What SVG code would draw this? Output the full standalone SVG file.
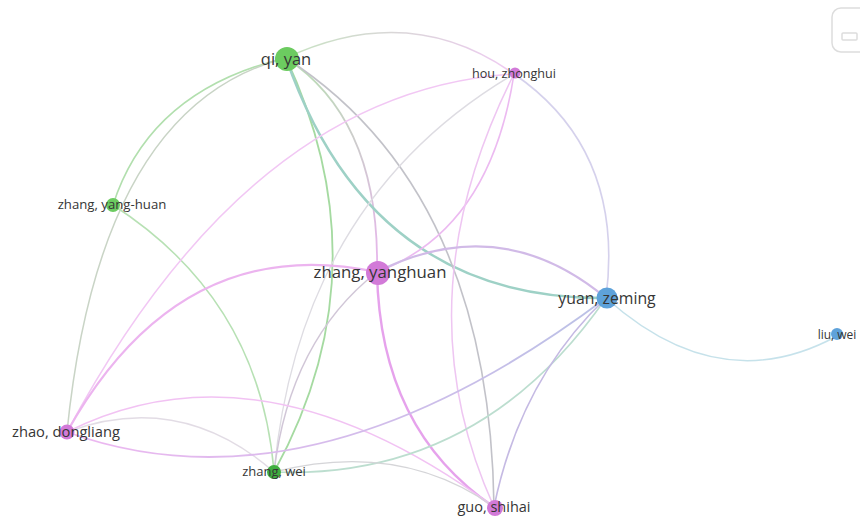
<svg xmlns="http://www.w3.org/2000/svg" width="860" height="517" viewBox="0 0 860 517">
  <style>
    .edge { fill: none; stroke-linecap: round; }
    #connectors { opacity: 0.8; }
    .lbl { font-family: "Open Sans", "Noto Sans", "Liberation Sans", sans-serif; fill: #363636; text-anchor: middle; }
    .green { fill: #6ccb60; }
    .dgreen { fill: #3fae3f; }
    .pink { fill: #d27ad8; }
    .blue { fill: #5ea2da; }
  </style>
  <defs>
    <linearGradient id="gQH" gradientUnits="userSpaceOnUse" x1="286" y1="58" x2="514" y2="74">
      <stop offset="0" stop-color="#b9dcb2"/>
      <stop offset="1" stop-color="#ecbdf0"/>
    </linearGradient>
    <linearGradient id="gQZY" gradientUnits="userSpaceOnUse" x1="286" y1="58" x2="377" y2="272">
      <stop offset="0" stop-color="#a6d89f"/>
      <stop offset="1" stop-color="#e3a2ea"/>
    </linearGradient>
    <linearGradient id="gZDYZ" gradientUnits="userSpaceOnUse" x1="67" y1="432" x2="606" y2="298">
      <stop offset="0" stop-color="#eaa6ee"/>
      <stop offset="1" stop-color="#a9b2e0"/>
    </linearGradient>
  </defs>

  <rect width="860" height="517" fill="#ffffff"/>

  <!-- panel widget, top right -->
  <g id="panel" fill="none" stroke="#dddddd" stroke-width="1.5">
    <rect x="832" y="8" width="50" height="44" rx="9"/>
    <rect x="842" y="33" width="15" height="7" rx="1"/>
  </g>

  <g id="connectors">
    <path class="edge" d="M286,58 Q410,0 514,74" stroke="url(#gQH)" stroke-width="1.6"/>
    <path class="edge" d="M514,74 Q625,150 606,298" stroke="#cbc6e8" stroke-width="1.6"/>
    <path class="edge" d="M286,58 Q150,90 113,205" stroke="#9fd89a" stroke-width="1.6"/>
    <path class="edge" d="M286,58 Q100,105 67,432" stroke="#bccab8" stroke-width="1.5"/>
    <path class="edge" d="M113,205 Q260,300 274,472" stroke="#a6daa2" stroke-width="1.5"/>
    <path class="edge" d="M286,58 Q385,270 274,472" stroke="#8fd28a" stroke-width="1.8"/>
    <path class="edge" d="M286,58 Q380,120 377,272" stroke="url(#gQZY)" stroke-width="1.8"/>
    <path class="edge" d="M286,58 Q370,300 606,298" stroke="#86c6b8" stroke-width="2.4"/>
    <path class="edge" d="M286,58 Q490,190 494,507" stroke="#b4b4bc" stroke-width="1.6"/>
    <path class="edge" d="M514,74 Q250,90 67,432" stroke="#efbaf2" stroke-width="1.5"/>
    <path class="edge" d="M514,74 Q300,200 274,472" stroke="#d6d4dc" stroke-width="1.3"/>
    <path class="edge" d="M514,74 Q490,230 377,272" stroke="#e8aaee" stroke-width="1.6"/>
    <path class="edge" d="M514,74 Q400,300 494,507" stroke="#ebb8ef" stroke-width="1.5"/>
    <path class="edge" d="M377,272 Q500,210 606,298" stroke="#c6aae2" stroke-width="2.2"/>
    <path class="edge" d="M377,272 Q380,430 494,507" stroke="#e08ce8" stroke-width="2.4"/>
    <path class="edge" d="M67,432 Q180,230 377,272" stroke="#e8a2ec" stroke-width="2.2"/>
    <path class="edge" d="M377,272 Q290,340 274,472" stroke="#c6b9ce" stroke-width="1.5"/>
    <path class="edge" d="M67,432 Q260,335 494,507" stroke="#efb4f1" stroke-width="1.6"/>
    <path class="edge" d="M67,432 Q180,390 274,472" stroke="#dcd4df" stroke-width="1.3"/>
    <path class="edge" d="M67,432 Q310,520 606,298" stroke="url(#gZDYZ)" stroke-width="1.8"/>
    <path class="edge" d="M274,472 Q480,480 606,298" stroke="#acd6c4" stroke-width="1.6"/>
    <path class="edge" d="M274,472 Q400,440 494,507" stroke="#cbcbcf" stroke-width="1.4"/>
    <path class="edge" d="M606,298 Q520,380 494,507" stroke="#b7a9dd" stroke-width="1.6"/>
    <path class="edge" d="M606,298 Q720,400 837,336" stroke="#b8dbe6" stroke-width="1.5"/>
  </g>

  <g id="node-qi-yan">
    <circle class="green" cx="287" cy="59" r="12"/>
    <text class="lbl" x="286" y="65" font-size="16.5">qi, yan</text>
  </g>
  <g id="node-hou-zhonghui">
    <circle class="pink" cx="515" cy="73" r="5.5"/>
    <text class="lbl" x="514" y="78" font-size="12.6">hou, zhonghui</text>
  </g>
  <g id="node-zhang-yang-huan">
    <circle class="green" cx="113" cy="205" r="7"/>
    <text class="lbl" x="112" y="209" font-size="13.2">zhang, yang-huan</text>
  </g>
  <g id="node-zhang-yanghuan">
    <circle class="pink" cx="378" cy="273" r="12"/>
    <text class="lbl" x="380" y="278" font-size="16.8">zhang, yanghuan</text>
  </g>
  <g id="node-yuan-zeming">
    <circle class="blue" cx="607" cy="298" r="10.5"/>
    <text class="lbl" x="607" y="304" font-size="15.8">yuan, zeming</text>
  </g>
  <g id="node-liu-wei">
    <circle class="blue" cx="837" cy="334" r="6"/>
    <text class="lbl" x="837" y="339" font-size="12">liu, wei</text>
  </g>
  <g id="node-zhao-dongliang">
    <circle class="pink" cx="67" cy="432" r="7.5"/>
    <text class="lbl" x="66" y="437" font-size="14.7">zhao, dongliang</text>
  </g>
  <g id="node-zhang-wei">
    <circle class="dgreen" cx="274" cy="472" r="7"/>
    <text class="lbl" x="274" y="476" font-size="13">zhang, wei</text>
  </g>
  <g id="node-guo-shihai">
    <circle class="pink" cx="495" cy="508" r="8"/>
    <text class="lbl" x="494" y="512" font-size="14.5">guo, shihai</text>
  </g>
</svg>
